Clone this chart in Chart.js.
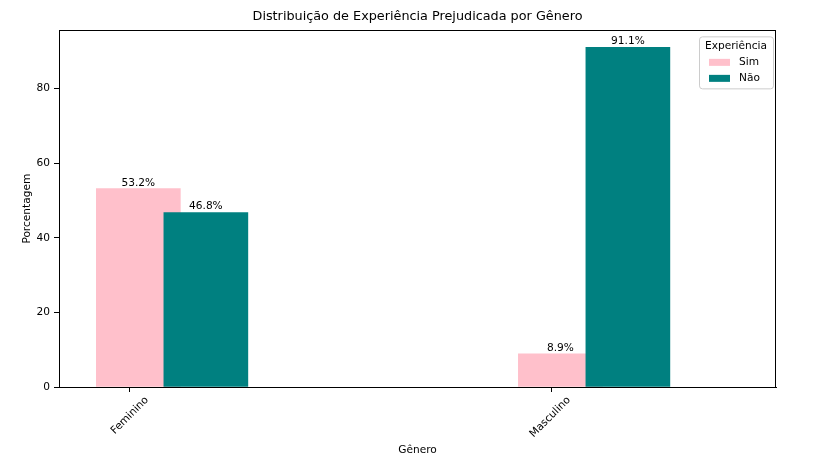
<!DOCTYPE html>
<html>
<head>
<meta charset="utf-8">
<script src="https://cdn.jsdelivr.net/npm/chart.js@4"></script>
<style>
  html, body { margin: 0; padding: 0; background: #fff; }
  #wrap { width: 828px; height: 462px; }
</style>
</head>
<body>
<div id="wrap"><canvas id="chart" width="828" height="462"></canvas></div>
<script>
// Data
const categories = ["Feminino", "Masculino"];
const seriesNames = ["Sim", "Não"];
const simValues = [53.2, 8.9];
const naoValues = [46.8, 91.1];
const yTicks = [0, 20, 40, 60, 80];

const FONT = "'DejaVu Sans', sans-serif";
const FS = 10.6;
const colors = ["#ffc0cb", "#008080"];
const barOffsets = [0.02, 0.18]; // bar centres relative to category tick

const datasets = [simValues, naoValues].map((vals, s) => ({
  label: seriesNames[s],
  data: vals.map((v, i) => ({ x: i + barOffsets[s], y: v })),
  backgroundColor: colors[s],
  borderWidth: 0,
  barThickness: 84,
  grouped: false,
  order: s === 0 ? 1 : 0 // "Não" drawn over "Sim"
}));

// value labels, box around axes, legend
const extras = {
  id: "extras",
  afterDatasetsDraw(chart) {
    const ctx = chart.ctx;
    ctx.save();
    ctx.font = FS + "px " + FONT;
    ctx.fillStyle = "#000";
    ctx.textAlign = "center";
    ctx.textBaseline = "bottom";
    chart.data.datasets.forEach((ds, di) => {
      chart.getDatasetMeta(di).data.forEach((bar, i) => {
        ctx.fillText(ds.data[i].y.toFixed(1) + "%", bar.x, bar.y - 0.5);
      });
    });
    ctx.restore();
  },
  afterDraw(chart) {
    const ctx = chart.ctx;
    const a = chart.chartArea;
    ctx.save();
    ctx.strokeStyle = "#000";
    ctx.lineWidth = 1;
    ctx.strokeRect(Math.round(a.left) + 0.5, Math.round(a.top) + 0.5,
      Math.round(a.right - a.left) - 1, Math.round(a.bottom - a.top));

    // legend
    const bx = a.right - 77, by = a.top + 6, bw = 74, bh = 52;
    ctx.beginPath();
    ctx.roundRect(bx + 0.5, by + 0.5, bw, bh, 3);
    ctx.fillStyle = "rgba(255,255,255,0.8)";
    ctx.fill();
    ctx.strokeStyle = "#cccccc";
    ctx.stroke();
    ctx.font = FS + "px " + FONT;
    ctx.fillStyle = "#000";
    ctx.textAlign = "center";
    ctx.textBaseline = "middle";
    ctx.fillText("Experiência", bx + bw / 2, by + 10);
    chart.data.datasets.forEach((ds, i) => {
      const y = by + 26 + i * 16;
      ctx.fillStyle = ds.backgroundColor;
      ctx.fillRect(bx + 10, y - 3.5, 21, 7);
      ctx.fillStyle = "#000";
      ctx.textAlign = "left";
      ctx.fillText(ds.label, bx + 40, y);
    });
    ctx.restore();
  }
};

new Chart(document.getElementById("chart"), {
  type: "bar",
  data: { datasets: datasets },
  plugins: [extras],
  options: {
    responsive: false,
    animation: false,
    layout: { padding: { left: 0, right: 52, top: 0, bottom: 0 } },
    plugins: {
      legend: { display: false },
      tooltip: { enabled: false },
      title: {
        display: true,
        fullSize: false,
        text: "Distribuição de Experiência Prejudicada por Gênero",
        color: "#000",
        font: { family: FONT, size: 12.8, weight: "normal" },
        padding: { top: 9, bottom: 6 }
      }
    },
    scales: {
      x: {
        type: "linear",
        min: -0.168,
        max: 1.531,
        offset: false,
        afterBuildTicks: s => { s.ticks = categories.map((c, i) => ({ value: i })); },
        afterFit: s => { s.height = 75; },
        ticks: {
          autoSkip: false,
          minRotation: 45,
          maxRotation: 45,
          labelOffset: 17,
          padding: 2,
          color: "#000",
          font: { family: FONT, size: FS },
          callback: v => categories[v] ?? ""
        },
        grid: { display: true, drawOnChartArea: false, offset: false, tickLength: 5, color: "#000" },
        border: { display: true, color: "#000" },
        title: {
          display: true,
          text: "Gênero",
          color: "#000",
          font: { family: FONT, size: FS },
          padding: { top: 0, bottom: 5 }
        }
      },
      y: {
        min: 0,
        max: 95.655,
        afterBuildTicks: s => { s.ticks = yTicks.map(v => ({ value: v })); },
        afterFit: s => { s.width = 59; },
        ticks: {
          padding: 4,
          color: "#000",
          font: { family: FONT, size: FS }
        },
        grid: { display: true, drawOnChartArea: false, tickLength: 5, color: "#000" },
        border: { display: true, color: "#000" },
        title: {
          display: true,
          text: "Porcentagem",
          color: "#000",
          font: { family: FONT, size: FS },
          padding: { top: 21, bottom: 0 }
        }
      }
    }
  }
});
</script>
</body>
</html>
